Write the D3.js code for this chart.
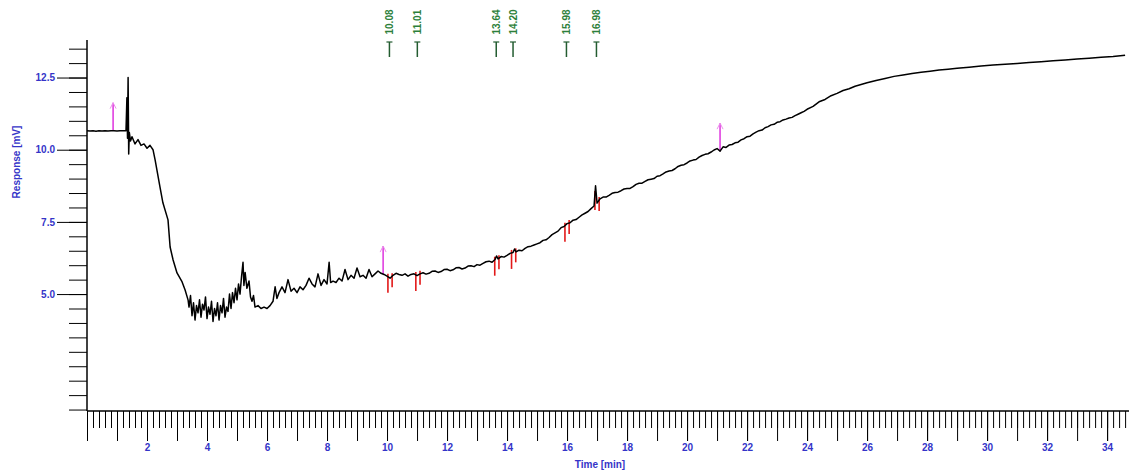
<!DOCTYPE html>
<html>
<head>
<meta charset="utf-8">
<script src="https://cdn.jsdelivr.net/npm/d3@7"></script>
<style>
  html, body { margin: 0; padding: 0; background: #fff; }
  svg { display: block; }
  text { font-family: "Liberation Sans", Arial, sans-serif; }
</style>
</head>
<body>
<svg id="chart" width="1129" height="472"></svg>
<script>
// Detector trace: time in minutes
const times = [
  0.00, 0.10, 0.20, 0.30, 0.40, 0.50, 0.60, 0.70, 0.80, 0.90,
  1.00, 1.10, 1.20, 1.30, 1.33, 1.35, 1.37, 1.39, 1.41, 1.45,
  1.50, 1.60, 1.70, 1.80, 1.90, 2.00, 2.10, 2.20, 2.27, 2.43,
  2.53, 2.70, 2.77, 2.87, 3.00, 3.17, 3.27, 3.37, 3.40, 3.45,
  3.50, 3.55, 3.60, 3.65, 3.70, 3.75, 3.80, 3.85, 3.90, 3.95,
  4.00, 4.05, 4.10, 4.15, 4.20, 4.25, 4.30, 4.35, 4.40, 4.45,
  4.50, 4.55, 4.60, 4.65, 4.70, 4.75, 4.80, 4.85, 4.90, 4.95,
  5.00, 5.05, 5.10, 5.15, 5.20, 5.23, 5.27, 5.33, 5.40, 5.45,
  5.50, 5.55, 5.60, 5.70, 5.80, 5.90, 6.00, 6.10, 6.20, 6.27,
  6.33, 6.40, 6.50, 6.60, 6.70, 6.80, 6.90, 7.00, 7.10, 7.20,
  7.30, 7.40, 7.50, 7.60, 7.70, 7.80, 7.90, 8.00, 8.07, 8.12,
  8.20, 8.30, 8.40, 8.50, 8.60, 8.70, 8.80, 8.90, 9.00, 9.10,
  9.20, 9.30, 9.40, 9.50, 9.60, 9.70, 9.80, 9.90, 10.00, 10.10,
  10.20, 10.30, 10.40, 10.50, 10.60, 10.70, 10.80, 10.90, 11.00, 11.10,
  11.20, 11.30, 11.40, 11.50, 11.60, 11.70, 11.80, 11.90, 12.00, 12.10,
  12.20, 12.30, 12.40, 12.50, 12.60, 12.70, 12.80, 12.90, 13.00, 13.10,
  13.20, 13.30, 13.40, 13.50, 13.60, 13.65, 13.70, 13.80, 13.90, 14.00,
  14.10, 14.20, 14.25, 14.30, 14.40, 14.50, 14.60, 14.70, 14.80, 14.90,
  15.00, 15.10, 15.20, 15.30, 15.40, 15.50, 15.60, 15.70, 15.80, 15.90,
  16.00, 16.10, 16.20, 16.30, 16.40, 16.50, 16.60, 16.70, 16.80, 16.90,
  16.95, 17.00, 17.10, 17.20, 17.30, 17.40, 17.50, 17.60, 17.70, 17.80,
  17.90, 18.00, 18.10, 18.20, 18.30, 18.40, 18.50, 18.60, 18.70, 18.80,
  18.90, 19.00, 19.10, 19.20, 19.30, 19.40, 19.50, 19.60, 19.70, 19.80,
  19.90, 20.00, 20.10, 20.20, 20.30, 20.40, 20.50, 20.60, 20.70, 20.80,
  20.90, 21.00, 21.10, 21.20, 21.30, 21.40, 21.50, 21.60, 21.70, 21.80,
  21.90, 22.00, 22.10, 22.20, 22.30, 22.40, 22.50, 22.60, 22.70, 22.80,
  22.90, 23.00, 23.10, 23.20, 23.30, 23.40, 23.50, 23.60, 23.70, 23.80,
  23.90, 24.00, 24.20, 24.40, 24.60, 24.80, 25.00, 25.20, 25.40, 25.60,
  25.80, 26.00, 26.30, 26.60, 26.90, 27.20, 27.50, 27.80, 28.10, 28.40,
  28.70, 29.00, 29.40, 29.80, 30.20, 30.60, 31.00, 31.40, 31.80, 32.20,
  32.60, 33.00, 33.40, 33.80, 34.20, 34.60
];
// Detector response in mV, one value per time above
const response = [
  10.66, 10.65, 10.66, 10.64, 10.66, 10.65, 10.66, 10.65, 10.66, 10.66,
  10.65, 10.66, 10.66, 10.66, 11.80, 10.40, 12.50, 9.85, 10.60, 10.30,
  10.45, 10.20, 10.35, 10.15, 10.20, 10.05, 10.15, 10.00, 9.65, 8.72,
  8.16, 7.57, 6.63, 6.18, 5.73, 5.42, 5.14, 4.79, 4.55, 4.95,
  4.25, 4.70, 4.10, 4.60, 4.35, 4.80, 4.20, 4.65, 4.45, 4.90,
  4.15, 4.55, 4.30, 4.75, 4.05, 4.50, 4.25, 4.70, 4.10, 4.60,
  4.35, 4.85, 4.20, 4.55, 4.40, 5.00, 4.50, 5.05, 4.70, 5.20,
  4.80, 5.35, 5.00, 5.60, 6.10, 5.30, 5.75, 5.20, 5.45, 4.90,
  4.75, 4.95, 4.55, 4.60, 4.50, 4.55, 4.50, 4.60, 4.75, 5.25,
  4.85, 5.05, 5.25, 5.05, 5.50, 5.10, 5.20, 5.05, 5.25, 5.15,
  5.30, 5.55, 5.35, 5.25, 5.70, 5.30, 5.50, 5.35, 6.10, 5.40,
  5.45, 5.40, 5.55, 5.45, 5.85, 5.50, 5.65, 5.55, 5.90, 5.60,
  5.65, 5.55, 5.85, 5.60, 5.70, 5.80, 5.72, 5.68, 5.62, 5.55,
  5.65, 5.72, 5.68, 5.65, 5.70, 5.62, 5.68, 5.70, 5.64, 5.70,
  5.74, 5.69, 5.72, 5.79, 5.80, 5.75, 5.78, 5.85, 5.86, 5.81,
  5.84, 5.91, 5.92, 5.87, 5.90, 5.97, 5.98, 5.95, 6.02, 6.00,
  6.06, 6.12, 6.14, 6.10, 6.20, 6.32, 6.22, 6.30, 6.28, 6.34,
  6.41, 6.44, 6.56, 6.46, 6.52, 6.50, 6.58, 6.64, 6.66, 6.70,
  6.74, 6.78, 6.86, 6.88, 6.96, 7.06, 7.12, 7.18, 7.30, 7.34,
  7.44, 7.47, 7.56, 7.58, 7.66, 7.74, 7.80, 7.86, 7.96, 8.05,
  8.75, 8.15, 8.30, 8.36, 8.36, 8.42, 8.49, 8.52, 8.53, 8.58,
  8.64, 8.66, 8.66, 8.72, 8.80, 8.84, 8.84, 8.90, 8.96, 8.98,
  9.00, 9.08, 9.10, 9.16, 9.23, 9.26, 9.28, 9.34, 9.42, 9.46,
  9.48, 9.54, 9.61, 9.64, 9.66, 9.74, 9.80, 9.84, 9.86, 9.92,
  9.99, 10.04, 9.95, 10.10, 10.08, 10.16, 10.18, 10.24, 10.26, 10.34,
  10.38, 10.45, 10.47, 10.55, 10.61, 10.66, 10.68, 10.76, 10.80, 10.86,
  10.88, 10.95, 10.97, 11.03, 11.06, 11.10, 11.12, 11.18, 11.23, 11.28,
  11.33, 11.40, 11.50, 11.66, 11.74, 11.87, 11.95, 12.05, 12.11, 12.20,
  12.26, 12.32, 12.40, 12.47, 12.54, 12.59, 12.64, 12.68, 12.72, 12.76,
  12.79, 12.82, 12.86, 12.90, 12.93, 12.96, 12.99, 13.02, 13.05, 13.08,
  13.11, 13.14, 13.17, 13.20, 13.23, 13.27
];

// Integrated peaks: retention times and their labels
const peakTimes = [10.08, 11.01, 13.64, 14.20, 15.98, 16.98];
const peakLabels = ["10.08", "11.01", "13.64", "14.20", "15.98", "16.98"];
// Event marks on the trace
const eventTimes = [0.87, 9.87, 21.1];

// Axis tick values
const xLabelTicks = [2, 4, 6, 8, 10, 12, 14, 16, 18, 20, 22, 24, 26, 28, 30, 32, 34];
const yLabelTicks = [5.0, 7.5, 10.0, 12.5];
const xTitle = "Time [min]";
const yTitle = "Response [mV]";

const svg = d3.select("#chart");
const W = 1129;
const plotLeft = 87, plotRight = W, plotTop = 40, plotBottom = 411;

const x = d3.scaleLinear().domain([0, 34.73]).range([plotLeft, plotRight]);
const y = d3.scaleLinear().domain([0.95, 13.8]).range([plotBottom, plotTop]);

const blue = "#3434c8";
const trace = times.map((t, i) => [t, response[i]]);
const bis = d3.bisector(d => d[0]).left;
function valueAt(t) {
  const i = Math.max(1, Math.min(trace.length - 1, bis(trace, t)));
  const a = trace[i - 1], b = trace[i];
  const f = (t - a[0]) / (b[0] - a[0]);
  return a[1] + f * (b[1] - a[1]);
}

function styleAxis(g, labels) {
  g.select(".domain").remove();
  g.selectAll(".tick line").attr("stroke", "#000").attr("stroke-width", 1);
  if (labels) {
    g.selectAll(".tick text").attr("fill", blue).attr("font-size", 10).attr("font-weight", "bold");
  } else {
    g.selectAll(".tick text").remove();
  }
}

// Y axis: 0.5 mV minor ticks, labelled majors every 2.5 mV
svg.append("g").attr("transform", `translate(${plotLeft},0)`)
  .call(d3.axisLeft(y).tickValues(d3.range(1, 13.76, 0.5)).tickSize(18))
  .call(g => styleAxis(g, false));
svg.append("g").attr("transform", `translate(${plotLeft},0)`)
  .call(d3.axisLeft(y).tickValues(yLabelTicks).tickSize(30).tickPadding(2).tickFormat(d3.format(".1f")))
  .call(g => styleAxis(g, true));
svg.append("line").attr("x1", plotLeft).attr("x2", plotLeft).attr("y1", plotTop).attr("y2", plotBottom)
  .attr("stroke", "#000").attr("stroke-width", 1.5);

// X axis: 0.2 min minor ticks, 1 min ticks, labelled every 2 min
svg.append("g").attr("transform", `translate(0,${plotBottom})`)
  .call(d3.axisBottom(x).tickValues(d3.range(0, 34.7, 0.2)).tickSize(17))
  .call(g => styleAxis(g, false));
svg.append("g").attr("transform", `translate(0,${plotBottom})`)
  .call(d3.axisBottom(x).tickValues(d3.range(0, 35, 1)).tickSize(30))
  .call(g => styleAxis(g, false));
svg.append("g").attr("transform", `translate(0,${plotBottom})`)
  .call(d3.axisBottom(x).tickValues(xLabelTicks).tickSize(30).tickPadding(3).tickFormat(d3.format("d")))
  .call(g => styleAxis(g, true));
svg.append("line").attr("x1", plotLeft).attr("x2", plotRight).attr("y1", plotBottom).attr("y2", plotBottom)
  .attr("stroke", "#000").attr("stroke-width", 1.5);

// Axis titles
svg.append("text").attr("x", 600).attr("y", 468).attr("text-anchor", "middle")
  .attr("fill", blue).attr("font-size", 10).attr("font-weight", "bold").text(xTitle);
svg.append("text").attr("transform", "translate(20,162) rotate(-90)").attr("text-anchor", "middle")
  .attr("fill", blue).attr("font-size", 10).attr("font-weight", "bold").text(yTitle);

// Event marks (magenta) rising from the trace
eventTimes.forEach(t => {
  const xv = x(t), yv = y(valueAt(t));
  svg.append("line").attr("x1", xv).attr("x2", xv).attr("y1", yv).attr("y2", yv - 28)
    .attr("stroke", "#e040e0").attr("stroke-width", 1.6);
  svg.append("path").attr("d", `M${xv - 3},${yv - 22} L${xv},${yv - 28} L${xv + 3},${yv - 22}`)
    .attr("fill", "none").attr("stroke", "#ec90ec").attr("stroke-width", 1);
});

// Peak delimiters (red) under the trace
peakTimes.forEach(t => {
  [[-0.05, 16], [0.09, 11]].forEach(([dt, len]) => {
    const xv = x(t + dt), yv = y(valueAt(t + dt));
    svg.append("line").attr("x1", xv).attr("x2", xv).attr("y1", yv - 3).attr("y2", yv + len)
      .attr("stroke", "#e21818").attr("stroke-width", 1.6);
  });
});

// Trace
svg.append("path").datum(trace)
  .attr("fill", "none").attr("stroke", "#000").attr("stroke-width", 1.5)
  .attr("stroke-linejoin", "round")
  .attr("d", d3.line().x(d => x(d[0])).y(d => y(d[1])));

// Peak retention-time labels along the top
peakTimes.forEach((t, i) => {
  const xv = x(t);
  svg.append("text").attr("transform", `translate(${xv + 3.5},22) rotate(-90)`)
    .attr("text-anchor", "middle").attr("fill", "#2d7f3a")
    .attr("font-size", 10).attr("font-weight", "bold").text(peakLabels[i]);
  svg.append("line").attr("x1", xv).attr("x2", xv).attr("y1", 42).attr("y2", 57)
    .attr("stroke", "#235c30").attr("stroke-width", 1.5);
  svg.append("line").attr("x1", xv - 3).attr("x2", xv + 3).attr("y1", 42).attr("y2", 42)
    .attr("stroke", "#235c30").attr("stroke-width", 1.2);
});
</script>
</body>
</html>
